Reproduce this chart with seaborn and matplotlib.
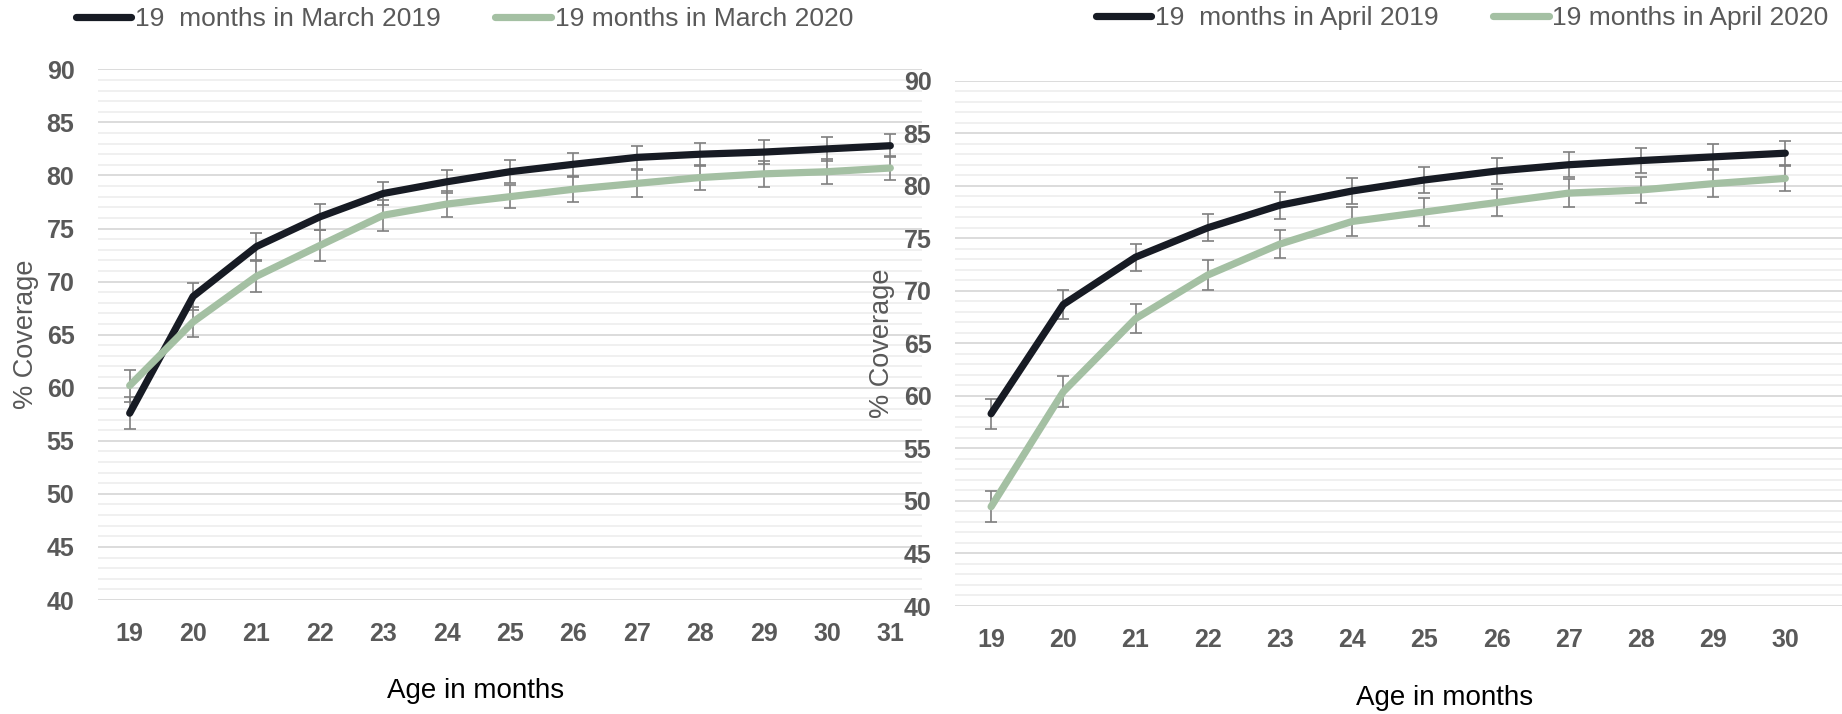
import pandas as pd
import matplotlib.pyplot as plt
import seaborn as sns

# Age categories (months)
AGES_MARCH = list(range(19, 32))
AGES_APRIL = list(range(19, 31))

# % coverage, left panel (cohorts turning 19 months in March)
MARCH_2019 = [57.6, 68.6, 73.3, 76.1, 78.3, 79.4, 80.35, 81.05, 81.7, 82.0, 82.2, 82.5, 82.8]
MARCH_2019_ERR = [1.5, 1.3, 1.3, 1.2, 1.1, 1.1, 1.1, 1.1, 1.1, 1.1, 1.1, 1.1, 1.1]
MARCH_2020 = [60.2, 66.2, 70.5, 73.4, 76.25, 77.3, 78.0, 78.7, 79.25, 79.8, 80.15, 80.35, 80.7]
MARCH_2020_ERR = [1.5, 1.4, 1.45, 1.45, 1.45, 1.2, 1.1, 1.2, 1.25, 1.2, 1.25, 1.2, 1.1]

# % coverage, right panel (cohorts turning 19 months in April)
APRIL_2019 = [58.3, 68.7, 73.2, 76.0, 78.15, 79.5, 80.55, 81.4, 82.0, 82.4, 82.75, 83.1]
APRIL_2019_ERR = [1.45, 1.4, 1.3, 1.3, 1.3, 1.2, 1.2, 1.2, 1.2, 1.15, 1.2, 1.15]
APRIL_2020 = [49.45, 60.4, 67.35, 71.5, 74.45, 76.6, 77.5, 78.4, 79.3, 79.6, 80.2, 80.7]
APRIL_2020_ERR = [1.5, 1.5, 1.4, 1.4, 1.35, 1.35, 1.3, 1.3, 1.3, 1.25, 1.3, 1.2]

LABELS_MARCH = ["19  months in March 2019", "19 months in March 2020"]
LABELS_APRIL = ["19  months in April 2019", "19 months in April 2020"]

COLOR_2019 = "#171b24"
COLOR_2020 = "#a4c0a3"
ERR_COLOR = "#7f7f7f"
TEXT_GREY = "#595959"

W, H = 1842, 714


def make_frame(ages, s19, s20, labels):
    rows = []
    for a, v in zip(ages, s19):
        rows.append({"Age": a, "Coverage": v, "Cohort": labels[0]})
    for a, v in zip(ages, s20):
        rows.append({"Age": a, "Coverage": v, "Cohort": labels[1]})
    return pd.DataFrame(rows)


def draw_panel(fig, rect, ages, s19, e19, s20, e20, labels, xmax,
               legend_xy, xlabel_xy, ylabel_x):
    ax = fig.add_axes(rect)
    df = make_frame(ages, s19, s20, labels)

    # error bars under the lines
    for vals, errs in [(s19, e19), (s20, e20)]:
        ax.errorbar(ages, vals, yerr=errs, fmt="none", ecolor=ERR_COLOR,
                    elinewidth=1.2, capsize=4.5, capthick=1.2, zorder=2)

    sns.lineplot(data=df, x="Age", y="Coverage", hue="Cohort",
                 palette={labels[0]: COLOR_2019, labels[1]: COLOR_2020},
                 linewidth=5.2, solid_capstyle="round", solid_joinstyle="round",
                 ax=ax, zorder=3)

    ax.set_xlim(ages[0] - 0.5, xmax)
    ax.set_ylim(40, 90)
    ax.set_xticks(ages)
    ax.set_yticks(range(40, 91, 5))
    ax.set_yticks(range(40, 91), minor=True)
    ax.grid(False)
    ax.grid(which="major", axis="y", color="#d9d9d9", linewidth=1.3, zorder=0)
    ax.grid(which="minor", axis="y", color="#efefef", linewidth=1.3, zorder=0)
    ax.set_axisbelow(True)
    for s in ax.spines.values():
        s.set_visible(False)
    ax.tick_params(which="both", length=0)
    ax.tick_params(axis="y", pad=17)
    ax.tick_params(axis="x", pad=16)
    for t in ax.get_xticklabels() + ax.get_yticklabels():
        t.set_fontsize(18)
        t.set_fontweight("bold")
        t.set_color(TEXT_GREY)

    ax.set_xlabel("Age in months", fontsize=20, color="black", va="center")
    ax.xaxis.set_label_coords(*xlabel_xy)
    ax.set_ylabel("% Coverage", fontsize=19.5, color=TEXT_GREY, va="center")
    ax.yaxis.set_label_coords(ylabel_x, 0.5)

    handles, lbls = ax.get_legend_handles_labels()
    ax.get_legend().remove()
    fig.legend(handles, lbls, loc="center left", bbox_to_anchor=legend_xy,
               bbox_transform=fig.transFigure, ncol=2, frameon=False,
               fontsize=19, handlelength=2.1, handletextpad=0.15,
               columnspacing=2.05, borderpad=0, borderaxespad=0,
               labelcolor=TEXT_GREY)
    return ax


def main():
    sns.set_theme(style="white")
    plt.rcParams["font.family"] = ["Liberation Sans", "DejaVu Sans"]

    fig = plt.figure(figsize=(W / 100, H / 100), dpi=100)

    # left panel: plot area 98..922 px wide, 69..600 px tall
    left_rect = [98 / W, 1 - 600 / H, (922 - 98) / W, (600 - 69.3) / H]
    draw_panel(fig, left_rect, AGES_MARCH, MARCH_2019, MARCH_2019_ERR,
               MARCH_2020, MARCH_2020_ERR, LABELS_MARCH, 31.5,
               legend_xy=(76 / W, 1 - 19 / H),
               xlabel_xy=((475.5 - 98) / 824, (600 - 691) / 530.7),
               ylabel_x=(26 - 98) / 824)

    # right panel: 955..1842 px wide, 81..606 px tall
    right_rect = [955 / W, 1 - 606 / H, (W - 955) / W, (606 - 80.7) / H]
    draw_panel(fig, right_rect, AGES_APRIL, APRIL_2019, APRIL_2019_ERR,
               APRIL_2020, APRIL_2020_ERR, LABELS_APRIL, 18.5 + (W - 955) / 72.2,
               legend_xy=(1096 / W, 1 - 18 / H),
               xlabel_xy=((1444.5 - 955) / (W - 955), (606 - 698) / 525.3),
               ylabel_x=(882 - 955) / (W - 955))

    fig.savefig("out.png", dpi=100)
    plt.close(fig)


if __name__ == "__main__":
    main()
